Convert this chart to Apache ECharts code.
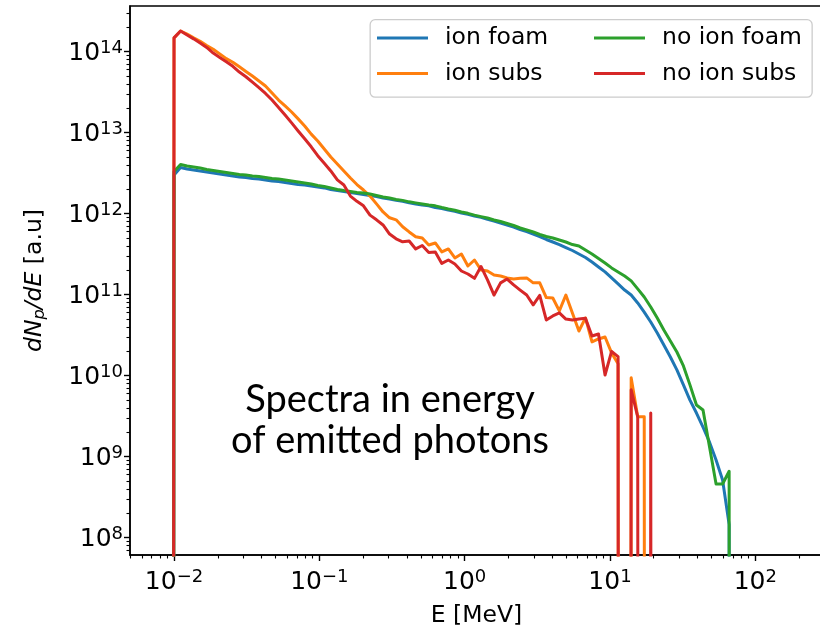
<!DOCTYPE html>
<html>
<head>
<meta charset="utf-8">
<script src="https://cdn.jsdelivr.net/npm/echarts@6/dist/echarts.min.js"></script>
<style>
  html, body { margin: 0; padding: 0; background: #ffffff; }
  #chart { width: 820px; height: 630px; }
</style>
</head>
<body>
<div id="chart"></div>
<script>
// Photon energy bins (MeV), log-spaced; the first bin is empty in every run
const energy = [0.00902, 0.0100, 0.01109, 0.01230, 0.01364, 0.01513, 0.01678, 0.01861, 0.02064, 0.02289,
  0.02539, 0.02816, 0.03123, 0.03463, 0.03841, 0.04260, 0.04725, 0.05240, 0.05811, 0.06445,
  0.07148, 0.07927, 0.08792, 0.09750, 0.1081, 0.1199, 0.1330, 0.1475, 0.1636, 0.1814,
  0.2012, 0.2231, 0.2474, 0.2744, 0.3043, 0.3375, 0.3743, 0.4151, 0.4603, 0.5105,
  0.5662, 0.6279, 0.6963, 0.7722, 0.8563, 0.9496, 1.053, 1.168, 1.295, 1.436,
  1.593, 1.766, 1.959, 2.173, 2.410, 2.672, 2.963, 3.286, 3.645, 4.042,
  4.483, 4.971, 5.513, 6.114, 6.781, 7.520, 8.340, 9.249, 10.26, 11.37,
  12.62, 13.99, 15.52, 17.21, 19.08, 21.16, 23.48, 26.04, 28.87, 32.02,
  35.51, 39.38, 43.68, 48.44, 53.72, 59.57, 66.07, 73.27];

// dN/dE per bin, arbitrary units (0 = no photons in that bin)
const ionFoam = [0, 3.00e12, 3.72e12, 3.56e12, 3.46e12, 3.37e12, 3.27e12, 3.18e12, 3.09e12, 3.00e12,
  2.92e12, 2.84e12, 2.80e12, 2.72e12, 2.68e12, 2.61e12, 2.53e12, 2.50e12, 2.43e12, 2.36e12,
  2.29e12, 2.26e12, 2.20e12, 2.14e12, 2.08e12, 1.99e12, 1.93e12, 1.88e12, 1.83e12, 1.78e12,
  1.73e12, 1.68e12, 1.63e12, 1.56e12, 1.52e12, 1.46e12, 1.42e12, 1.36e12, 1.32e12, 1.28e12,
  1.25e12, 1.19e12, 1.16e12, 1.11e12, 1.07e12, 1.02e12, 9.8e11, 9.37e11, 9.0e11, 8.5e11,
  8.12e11, 7.68e11, 7.25e11, 6.85e11, 6.38e11, 6.0e11, 5.61e11, 5.22e11, 4.8e11, 4.47e11,
  4.16e11, 3.82e11, 3.51e11, 3.18e11, 2.88e11, 2.53e11, 2.20e11, 1.91e11, 1.61e11, 1.36e11,
  1.14e11, 9.9e10, 7.9e10, 6.1e10, 4.6e10, 3.37e10, 2.39e10, 1.70e10, 1.18e10, 7.7e9,
  5.0e9, 3.46e9, 2.31e9, 1.51e9, 9.1e8, 5.15e8, 1.45e8, 0];

const ionSubs = [0, 1.48e14, 1.80e14, 1.65e14, 1.48e14, 1.34e14, 1.19e14, 1.07e14, 9.4e13, 8.2e13,
  7.4e13, 6.5e13, 5.7e13, 5.0e13, 4.35e13, 3.77e13, 3.09e13, 2.53e13, 2.14e13, 1.80e13,
  1.48e13, 1.21e13, 9.6e12, 7.9e12, 6.3e12, 5.0e12, 4.1e12, 3.37e12, 2.76e12, 2.29e12,
  1.96e12, 1.65e12, 1.32e12, 1.05e12, 8.9e11, 8.4e11, 6.9e11, 5.95e11, 5.2e11, 5.0e11,
  4.1e11, 4.35e11, 3.37e11, 3.67e11, 2.84e11, 3.18e11, 2.26e11, 2.68e11, 2.02e11, 1.96e11,
  1.75e11, 1.70e11, 1.61e11, 1.56e11, 1.59e11, 1.61e11, 1.40e11, 1.40e11, 9.2e10, 9.1e10,
  6.3e10, 9.9e10, 5.95e10, 3.56e10, 5.16e10, 2.61e10, 2.84e10, 3.0e10, 1.91e10, 1.40e10,
  0, 9.4e9, 3.1e9, 3.1e9, 0, 0];

const noIonFoam = [0, 3.32e12, 4.05e12, 3.88e12, 3.77e12, 3.67e12, 3.51e12, 3.41e12, 3.32e12, 3.23e12,
  3.14e12, 3.05e12, 3.00e12, 2.92e12, 2.88e12, 2.80e12, 2.72e12, 2.68e12, 2.61e12, 2.53e12,
  2.46e12, 2.39e12, 2.33e12, 2.23e12, 2.17e12, 2.08e12, 1.99e12, 1.93e12, 1.88e12, 1.83e12,
  1.80e12, 1.75e12, 1.68e12, 1.61e12, 1.56e12, 1.50e12, 1.46e12, 1.40e12, 1.36e12, 1.32e12,
  1.28e12, 1.25e12, 1.19e12, 1.14e12, 1.10e12, 1.05e12, 1.01e12, 9.6e11, 9.2e11, 8.85e11,
  8.36e11, 8.0e11, 7.57e11, 7.15e11, 6.66e11, 6.29e11, 5.94e11, 5.53e11, 5.22e11, 5.01e11,
  4.73e11, 4.47e11, 4.16e11, 3.99e11, 3.56e11, 3.18e11, 2.80e11, 2.46e11, 2.14e11, 1.91e11,
  1.70e11, 1.48e11, 1.18e11, 9.37e10, 7.05e10, 5.16e10, 3.67e10, 2.68e10, 1.96e10, 1.32e10,
  7.7e9, 4.35e9, 3.77e9, 1.32e9, 4.6e8, 4.6e8, 6.6e8, 0];

const noIonSubs = [0, 1.48e14, 1.80e14, 1.61e14, 1.44e14, 1.28e14, 1.13e14, 9.6e13, 8.5e13, 7.5e13,
  6.6e13, 5.6e13, 4.9e13, 4.2e13, 3.6e13, 3.05e13, 2.53e13, 2.05e13, 1.65e13, 1.32e13,
  1.05e13, 8.4e12, 6.7e12, 5.2e12, 4.2e12, 3.37e12, 2.61e12, 2.26e12, 1.65e12, 1.42e12,
  1.25e12, 9.6e11, 8.4e11, 7.25e11, 5.6e11, 4.9e11, 4.5e11, 4.6e11, 3.67e11, 4.05e11,
  3.32e11, 3.37e11, 2.43e11, 2.68e11, 2.39e11, 1.96e11, 1.80e11, 1.59e11, 2.23e11, 1.52e11,
  9.9e10, 1.40e11, 1.56e11, 1.32e11, 1.14e11, 9.9e10, 7.5e10, 9.8e10, 4.87e10, 5.46e10,
  5.95e10, 5.0e10, 4.87e10, 5.0e10, 5.1e10, 3.09e10, 3.27e10, 1.02e10, 1.99e10, 1.72e10,
  0, 6.7e9, 3.1e9, 0, 3.46e9, 0];

const seriesNames = ['ion foam', 'ion subs', 'no ion foam', 'no ion subs'];
const xMajorTicks = [0.01, 0.1, 1, 10, 100];
const yMajorTicks = [1e8, 1e9, 1e10, 1e11, 1e12, 1e13, 1e14];

// Visible axis ranges
const X_MIN = 0.004977, X_MAX = 292.4;
const Y_MIN = 6.11e7, Y_MAX = 3.664e14;

// Empty bins are sent far below the lowest decade so the line drops out of the frame
const FLOOR = 1e-100;
function toPairs(values) {
  return values.map((v, i) => [energy[i], v > 0 ? v : FLOOR]);
}

function minorTicks(lo, hi) {
  const out = [];
  const e0 = Math.floor(Math.log10(lo)), e1 = Math.ceil(Math.log10(hi));
  for (let e = e0; e <= e1; e++) {
    for (let m = 2; m <= 9; m++) {
      const v = Number((m * Math.pow(10, e)).toPrecision(3));
      if (v >= lo && v <= hi) out.push(v);
    }
  }
  return out;
}

function powLabel(v) {
  const e = Math.round(Math.log10(v));
  return '{b|10}{s|' + (e < 0 ? '\u2212' + (-e) : String(e)) + '}';
}

const FONT = 'DejaVu Sans';
const FS = 23.5;
const labelRich = {
  b: { fontFamily: FONT, fontSize: 25, lineHeight: 25, padding: [4, 0, 0, 0], color: '#000' },
  s: { fontFamily: FONT, fontSize: 18, lineHeight: 18, verticalAlign: 'top', color: '#000' }
};
const tickLine = { color: '#000', width: 1.4 };

const colors = ['#1f77b4', '#ff7f0e', '#2ca02c', '#d62728'];
const values = [ionFoam, ionSubs, noIonFoam, noIonSubs];

const chart = echarts.init(document.getElementById('chart'), null, { renderer: 'canvas' });

const legendBase = {
  orient: 'vertical', top: 26, icon: 'rect',
  itemWidth: 51, itemHeight: 3, itemGap: 11.6, padding: 0, selectedMode: false,
  textStyle: { fontFamily: FONT, fontSize: FS, lineHeight: 24, color: '#000', padding: [0, 0, 0, 12] }
};

const option = {
  animation: false,
  backgroundColor: '#ffffff',
  textStyle: { fontFamily: FONT },
  grid: {
    left: 130, right: -3, top: 6, bottom: 75,
    show: true, borderColor: '#000', borderWidth: 1.5, backgroundColor: 'transparent',
    containLabel: false, outerBoundsMode: 'none'
  },
  xAxis: [
    {
      type: 'log', logBase: 10, min: X_MIN, max: X_MAX, position: 'bottom',
      axisLine: { show: true, lineStyle: { color: '#000', width: 1.5 } },
      axisTick: { show: true, customValues: xMajorTicks, length: 6, lineStyle: tickLine },
      axisLabel: { show: true, customValues: xMajorTicks, formatter: powLabel, margin: 13, rich: labelRich },
      splitLine: { show: false }, minorTick: { show: false },
      name: 'E [MeV]', nameLocation: 'middle', nameGap: 49, nameMoveOverlap: false,
      nameTextStyle: { fontFamily: FONT, fontSize: FS, lineHeight: FS, color: '#000' }
    },
    {
      type: 'log', logBase: 10, min: X_MIN, max: X_MAX, position: 'bottom',
      axisLine: { show: false },
      axisTick: { show: true, customValues: minorTicks(X_MIN, X_MAX), length: 3.5, lineStyle: { color: '#000', width: 1.1 } },
      axisLabel: { show: false }, splitLine: { show: false }
    }
  ],
  yAxis: [
    {
      type: 'log', logBase: 10, min: Y_MIN, max: Y_MAX, position: 'left',
      axisLine: { show: true, lineStyle: { color: '#000', width: 1.5 } },
      axisTick: { show: true, customValues: yMajorTicks, length: 6, lineStyle: tickLine },
      axisLabel: { show: true, customValues: yMajorTicks, formatter: powLabel, margin: 7, rich: labelRich },
      splitLine: { show: false }, minorTick: { show: false },
      name: '{i|dN}{sub|p}{i|/dE}{n| [a.u]}', nameLocation: 'middle', nameRotate: 90, nameGap: 82,
      nameMoveOverlap: false,
      nameTextStyle: {
        rich: {
          i: { fontFamily: FONT, fontStyle: 'italic', fontSize: FS, lineHeight: 27, color: '#000' },
          sub: { fontFamily: FONT, fontStyle: 'italic', fontSize: 16, lineHeight: 16, verticalAlign: 'bottom', color: '#000' },
          n: { fontFamily: FONT, fontSize: FS, lineHeight: 27, color: '#000' }
        }
      }
    },
    {
      type: 'log', logBase: 10, min: Y_MIN, max: Y_MAX, position: 'left',
      axisLine: { show: false },
      axisTick: { show: true, customValues: minorTicks(Y_MIN, Y_MAX), length: 3.5, lineStyle: { color: '#000', width: 1.1 } },
      axisLabel: { show: false }, splitLine: { show: false }
    }
  ],
  legend: [
    Object.assign({}, legendBase, { data: ['ion foam', 'ion subs'], left: 377 }),
    Object.assign({}, legendBase, { data: ['no ion foam', 'no ion subs'], left: 594 })
  ],
  graphic: [
    {
      type: 'rect', left: 369.5, top: 19, z: 3,
      shape: { width: 442, height: 77.5, r: 5 },
      style: { fill: 'rgba(255,255,255,0.8)', stroke: '#cccccc', lineWidth: 1.3 }
    },
    {
      type: 'text', x: 390, y: 379, z: 5,
      style: {
        text: 'Spectra in energy\nof emitted photons',
        fontFamily: 'Lato', fontWeight: 400, fontSize: 38, lineHeight: 41,
        textAlign: 'center', align: 'center', textVerticalAlign: 'top', verticalAlign: 'top',
        fill: '#000'
      }
    }
  ],
  series: seriesNames.map((name, i) => ({
    name: name,
    type: 'line',
    xAxisIndex: 0, yAxisIndex: 0,
    data: toPairs(values[i]),
    symbol: 'none',
    clip: true,
    color: colors[i],
    lineStyle: { color: colors[i], width: 3, join: 'round' },
    z: 2 + i
  }))
};

chart.setOption(option);
</script>
</body>
</html>
